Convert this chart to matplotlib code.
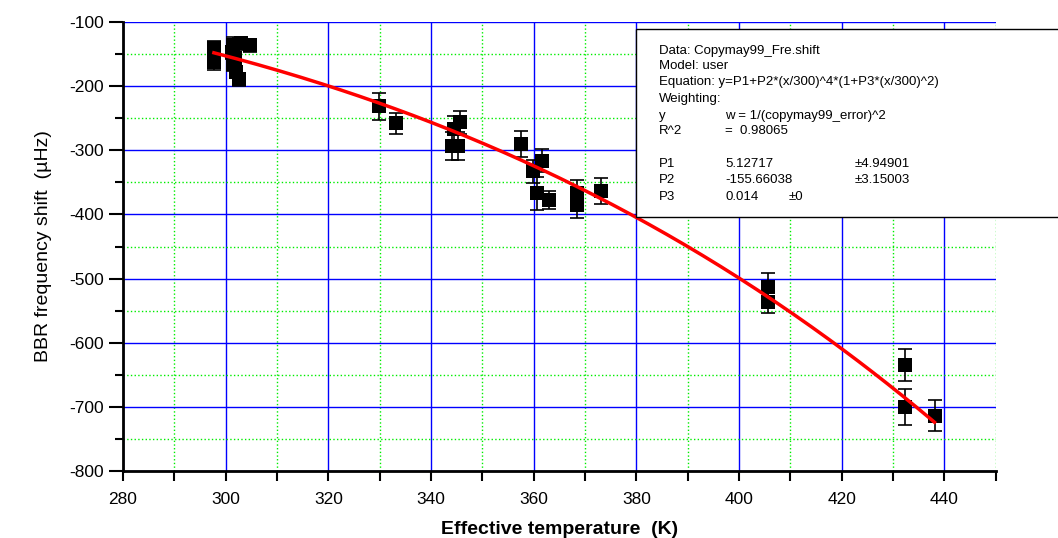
# BBR frequency shift vs effective temperature, with fitted curve
import matplotlib.pyplot as plt
import numpy as np
from matplotlib.patches import Rectangle
from matplotlib.ticker import MultipleLocator

plt.rcParams['font.family'] = ['Liberation Sans', 'DejaVu Sans']
plt.rcParams['axes.unicode_minus'] = False

temp = [297.7, 297.7, 301.5, 303.0, 304.8, 301.2, 301.8, 301.5, 302.0, 302.5,
        329.9, 333.2, 344.5, 345.7, 345.3, 344.1,
        357.6, 361.7, 359.9, 360.7, 363.0, 368.5, 368.5, 373.2,
        405.7, 405.7, 432.4, 432.4, 438.1]
shift = [-140, -163, -136, -133, -136, -147, -156, -166, -178, -189,
         -231, -258, -267, -256, -293, -293,
         -290, -316, -333, -367, -378, -367, -385, -363,
         -513, -537, -634, -700, -714]
err = [10, 12, 12, 10, 10, 10, 10, 10, 10, 10,
       21, 16, 20, 18, 22, 22,
       20, 18, 18, 26, 14, 20, 21, 20,
       22, 16, 25, 28, 24]

# fit parameters from the report box
P1 = 5.12717
P2 = -155.66038
P3 = 0.014

fig = plt.figure(figsize=(10.58, 5.38), dpi=100)
ax = fig.add_axes([0.1163, 0.1245, 0.8247, 0.8345])

ax.errorbar(temp, shift, yerr=err, fmt='none', ecolor='black',
            elinewidth=1.2, capsize=5, capthick=1.2, zorder=3)
ax.plot(temp, shift, 's', color='black', ms=9.5, mew=0, zorder=3)

xf = np.linspace(min(temp), max(temp), 200)
yf = P1 + P2 * (xf / 300) ** 4 * (1 + P3 * (xf / 300) ** 2)
ax.plot(xf, yf, color='red', lw=2.5, zorder=4)

ax.set_xlim(280, 450)
ax.set_ylim(-800, -100)
ax.xaxis.set_major_locator(MultipleLocator(20))
ax.xaxis.set_minor_locator(MultipleLocator(10))
ax.yaxis.set_major_locator(MultipleLocator(100))
ax.yaxis.set_minor_locator(MultipleLocator(50))

ax.grid(which='major', color='blue', lw=1, ls='-')
ax.grid(which='minor', color='#00ee00', lw=1, ls=':')
ax.set_axisbelow(True)

for s in ['top', 'right']:
    ax.spines[s].set_visible(False)
for s in ['left', 'bottom']:
    ax.spines[s].set_linewidth(2)

ax.tick_params(axis='y', which='major', direction='out', length=10, width=1.5, labelsize=12.5, pad=4)
ax.tick_params(axis='y', which='minor', direction='out', length=6, width=1.5)
ax.tick_params(axis='x', which='both', direction='out', length=7, width=1.5, labelsize=12.5, pad=8)

ax.set_xlabel('Effective temperature  (K)', fontsize=14, fontweight='bold', labelpad=10)
ax.set_ylabel('BBR frequency shift  (\u00b5Hz)', fontsize=14, labelpad=12)

# fit report box
W, H = 1058.0, 538.0
box = Rectangle((636 / W, 1 - 217 / H), (1062 - 636) / W, (217 - 29) / H,
                transform=fig.transFigure, facecolor='white', edgecolor='black',
                lw=1, zorder=10)
fig.patches.append(box)

fs = 9.5
def put(px, py, s):
    fig.text(px / W, 1 - py / H, s, fontsize=fs, va='center', ha='left', zorder=11)

put(659, 51, 'Data: Copymay99_Fre.shift')
put(659, 66, 'Model: user')
put(659, 82, 'Equation: y=P1+P2*(x/300)^4*(1+P3*(x/300)^2)')
put(659, 99, 'Weighting:')
put(659, 116, 'y')
put(725, 116, 'w = 1/(copymay99_error)^2')
put(659, 131, 'R^2')
put(725, 131, '=  0.98065')
put(659, 164, 'P1')
put(725, 164, '5.12717')
put(855, 164, '\u00b14.94901')
put(659, 180, 'P2')
put(725, 180, '-155.66038')
put(855, 180, '\u00b13.15003')
put(659, 197, 'P3')
put(725, 197, '0.014')
put(789, 197, '\u00b10')

plt.savefig('out.png', dpi=100)
